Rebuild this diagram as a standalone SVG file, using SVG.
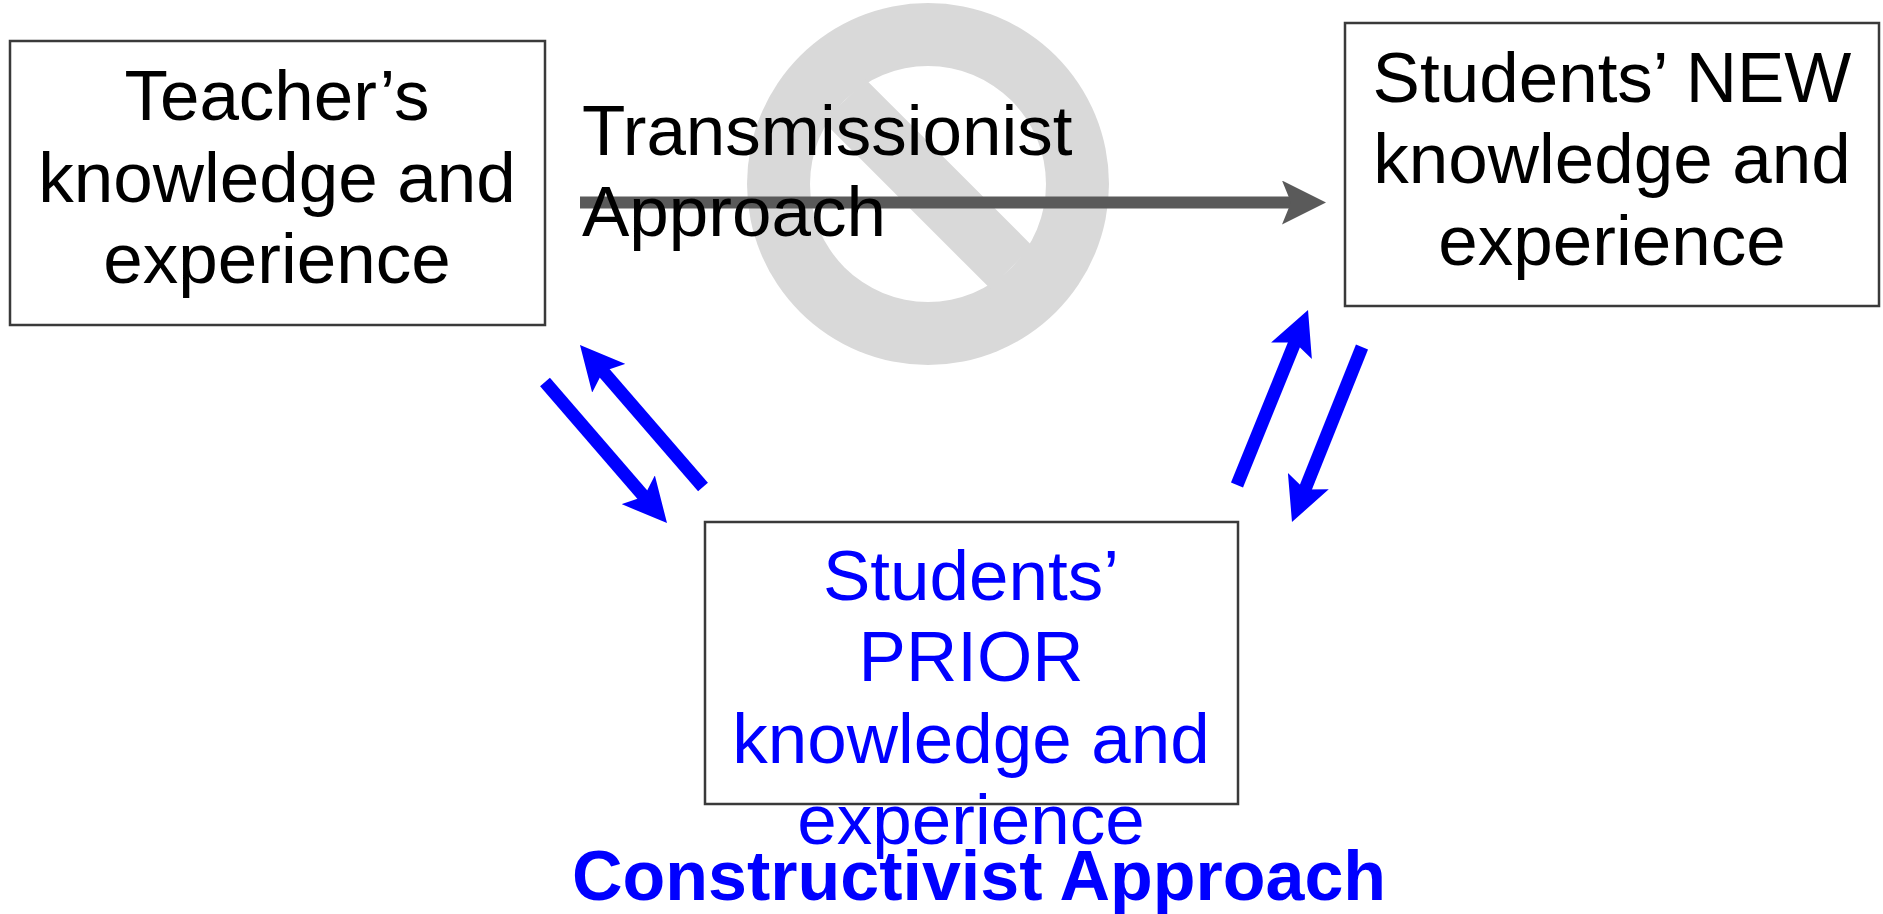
<svg xmlns="http://www.w3.org/2000/svg" width="1883" height="914" viewBox="0 0 1883 914">
<style>
.box{fill:#ffffff;stroke:#3a3a3a;stroke-width:2.5}
.t{font-family:"Liberation Sans",Arial,sans-serif;font-size:71px;fill:#000000;text-anchor:middle}
.b{fill:#0000ff}
.barrow{stroke:#0000ff;stroke-width:13;fill:none;marker-end:url(#hb)}
</style>
<defs>
<marker id="hb" viewBox="0 0 44 44" markerWidth="44" markerHeight="44" markerUnits="userSpaceOnUse" refX="20" refY="22" orient="auto">
<path d="M0,0 L44,22 L0,44 L9,22 Z" fill="#0000ff"/>
</marker>
<marker id="hg" viewBox="0 0 44 44" markerWidth="44" markerHeight="44" markerUnits="userSpaceOnUse" refX="20" refY="22" orient="auto">
<path d="M0,0 L44,22 L0,44 L9,22 Z" fill="#5a5a5a"/>
</marker>
</defs>
<rect width="1883" height="914" fill="#ffffff"/>
<g id="no-sign">
<circle cx="928" cy="184" r="181" fill="#d9d9d9"/>
<circle cx="928" cy="184" r="118" fill="#ffffff"/>
<line x1="844.6" y1="100.6" x2="1011.4" y2="267.4" stroke="#d9d9d9" stroke-width="60"/>
</g>
<g id="teacher">
<rect class="box" x="10" y="41" width="535" height="284"/>
<text class="t" x="277" y="120">Teacher’s</text>
<text class="t" x="277" y="202">knowledge and</text>
<text class="t" x="277" y="283">experience</text>
</g>
<g id="students-new">
<rect class="box" x="1345" y="23" width="534" height="283"/>
<text class="t" x="1612" y="102">Students’ NEW</text>
<text class="t" x="1612" y="183">knowledge and</text>
<text class="t" x="1612" y="265">experience</text>
</g>
<g id="students-prior">
<rect class="box" x="705" y="522" width="533" height="282"/>
<text class="t b" x="971" y="600">Students’</text>
<text class="t b" x="971" y="681">PRIOR</text>
<text class="t b" x="971" y="763">knowledge and</text>
<text class="t b" x="971" y="844">experience</text>
</g>
<g id="connectors">
<line x1="580" y1="202.5" x2="1302" y2="202.5" stroke="#5a5a5a" stroke-width="12" marker-end="url(#hg)"/>
<line class="barrow" x1="545" y1="382" x2="651.3" y2="504.9"/>
<line class="barrow" x1="703" y1="487" x2="595.7" y2="363.1"/>
<line class="barrow" x1="1237" y1="485" x2="1299" y2="332.2"/>
<line class="barrow" x1="1362" y1="347" x2="1300.9" y2="499.7"/>
</g>
<g id="transmissionist-label">
<text class="t" x="582" y="155" style="text-anchor:start">Transmissionist</text>
<text class="t" x="582" y="236" style="text-anchor:start">Approach</text>
</g>
<g id="constructivist-label">
<text class="t b" x="979" y="900" style="font-weight:bold;font-size:70px">Constructivist Approach</text>
</g>
</svg>
